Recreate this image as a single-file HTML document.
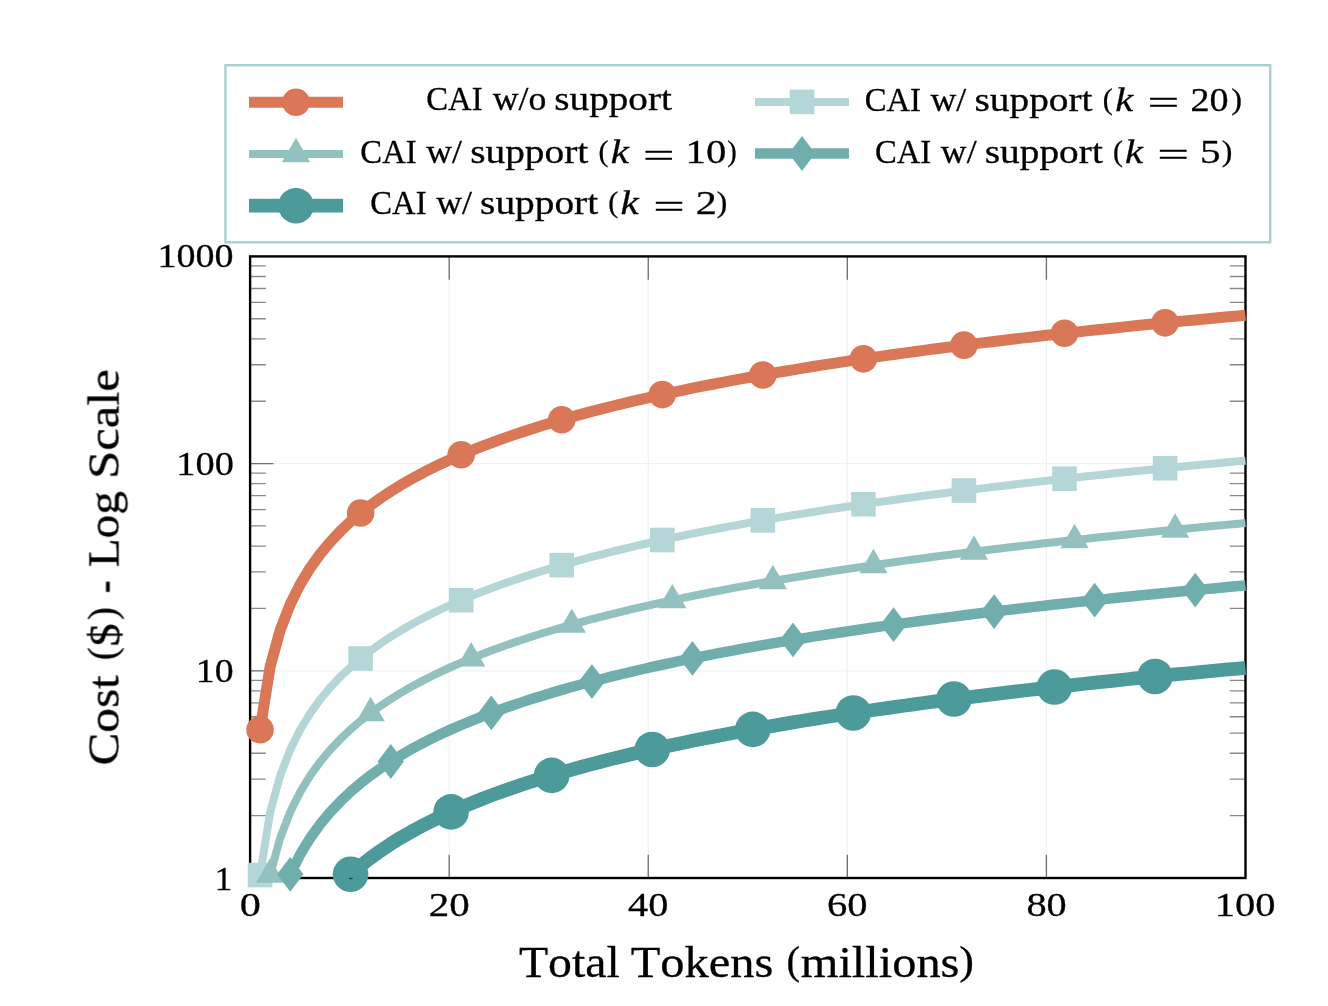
<!DOCTYPE html><html><head><meta charset="utf-8"><title>CAI cost chart</title><style>html,body{margin:0;padding:0;background:#fff;width:1328px;height:1006px;overflow:hidden}svg{display:block}text{font-family:"Liberation Serif",serif;font-kerning:none;fill:#000}</style></head><body>
<svg width="1328" height="1006" viewBox="0 0 1328 1006">
<rect x="0" y="0" width="1328" height="1006" fill="#fff"/>
<path d="M449.18 256.40V878.00M648.26 256.40V878.00M847.34 256.40V878.00M1046.42 256.40V878.00M250.10 670.80H1245.50M250.10 463.60H1245.50" stroke="#EDF3F4" stroke-width="1.2" fill="none"/>
<path d="M449.18 256.40v23.3M449.18 878.00v-23.3M648.26 256.40v23.3M648.26 878.00v-23.3M847.34 256.40v23.3M847.34 878.00v-23.3M1046.42 256.40v23.3M1046.42 878.00v-23.3M250.10 670.80h23.3M1245.50 670.80h-23.3M250.10 463.60h23.3M1245.50 463.60h-23.3" stroke="#6E6E6E" stroke-width="1.3" fill="none"/>
<path d="M250.10 815.63h15.8M1245.50 815.63h-15.8M250.10 779.14h15.8M1245.50 779.14h-15.8M250.10 753.25h15.8M1245.50 753.25h-15.8M250.10 733.17h15.8M1245.50 733.17h-15.8M250.10 716.77h15.8M1245.50 716.77h-15.8M250.10 702.90h15.8M1245.50 702.90h-15.8M250.10 690.88h15.8M1245.50 690.88h-15.8M250.10 680.28h15.8M1245.50 680.28h-15.8M250.10 608.43h15.8M1245.50 608.43h-15.8M250.10 571.94h15.8M1245.50 571.94h-15.8M250.10 546.05h15.8M1245.50 546.05h-15.8M250.10 525.97h15.8M1245.50 525.97h-15.8M250.10 509.57h15.8M1245.50 509.57h-15.8M250.10 495.70h15.8M1245.50 495.70h-15.8M250.10 483.68h15.8M1245.50 483.68h-15.8M250.10 473.08h15.8M1245.50 473.08h-15.8M250.10 401.23h15.8M1245.50 401.23h-15.8M250.10 364.74h15.8M1245.50 364.74h-15.8M250.10 338.85h15.8M1245.50 338.85h-15.8M250.10 318.77h15.8M1245.50 318.77h-15.8M250.10 302.37h15.8M1245.50 302.37h-15.8M250.10 288.50h15.8M1245.50 288.50h-15.8M250.10 276.48h15.8M1245.50 276.48h-15.8M250.10 265.88h15.8M1245.50 265.88h-15.8" stroke="#8A8A8A" stroke-width="1.3" fill="none"/>
<rect x="250.10" y="256.40" width="995.40" height="621.60" fill="none" stroke="#000" stroke-width="2.4"/>
<path d="M260.05 729.64 L270.11 666.81 L280.17 630.17 L290.22 604.21 L300.28 584.09 L310.33 567.65 L320.39 553.76 L330.44 541.72 L340.50 531.11 L350.55 521.62 L360.61 513.04 L370.67 505.20 L380.72 497.99 L390.78 491.32 L400.83 485.11 L410.89 479.29 L420.94 473.84 L431.00 468.69 L441.05 463.82 L451.11 459.20 L461.17 454.81 L471.22 450.62 L481.28 446.62 L491.33 442.79 L501.39 439.11 L511.44 435.58 L521.50 432.19 L531.55 428.91 L541.61 425.75 L551.67 422.70 L561.72 419.75 L571.78 416.89 L581.83 414.12 L591.89 411.43 L601.94 408.83 L612.00 406.29 L622.05 403.82 L632.11 401.42 L642.17 399.09 L652.22 396.81 L662.28 394.58 L672.33 392.41 L682.39 390.30 L692.44 388.23 L702.50 386.21 L712.55 384.23 L722.61 382.29 L732.67 380.40 L742.72 378.54 L752.78 376.72 L762.83 374.94 L772.89 373.19 L782.94 371.48 L793.00 369.80 L803.05 368.14 L813.11 366.52 L823.17 364.93 L833.22 363.36 L843.28 361.83 L853.33 360.31 L863.39 358.83 L873.44 357.36 L883.50 355.92 L893.55 354.50 L903.61 353.11 L913.67 351.73 L923.72 350.38 L933.78 349.05 L943.83 347.73 L953.89 346.44 L963.94 345.16 L974.00 343.90 L984.06 342.66 L994.11 341.44 L1004.17 340.23 L1014.22 339.04 L1024.28 337.86 L1034.33 336.70 L1044.39 335.55 L1054.44 334.42 L1064.50 333.30 L1074.56 332.20 L1084.61 331.11 L1094.67 330.03 L1104.72 328.97 L1114.78 327.91 L1124.83 326.87 L1134.89 325.84 L1144.94 324.83 L1155.00 323.82 L1165.06 322.83 L1175.11 321.84 L1185.17 320.87 L1195.22 319.91 L1205.28 318.96 L1215.33 318.01 L1225.39 317.08 L1235.44 316.16 L1245.50 315.24" stroke="#D97757" stroke-width="11" fill="none" stroke-linejoin="round" stroke-linecap="butt"/>
<circle cx="260.05" cy="729.64" r="13.8" fill="#D97757"/>
<circle cx="360.61" cy="513.04" r="13.8" fill="#D97757"/>
<circle cx="461.17" cy="454.81" r="13.8" fill="#D97757"/>
<circle cx="561.72" cy="419.75" r="13.8" fill="#D97757"/>
<circle cx="662.28" cy="394.58" r="13.8" fill="#D97757"/>
<circle cx="762.83" cy="374.94" r="13.8" fill="#D97757"/>
<circle cx="863.39" cy="358.83" r="13.8" fill="#D97757"/>
<circle cx="963.94" cy="345.16" r="13.8" fill="#D97757"/>
<circle cx="1064.50" cy="333.30" r="13.8" fill="#D97757"/>
<circle cx="1165.06" cy="322.83" r="13.8" fill="#D97757"/>
<path d="M260.05 875.08 L270.11 812.25 L280.17 775.61 L290.22 749.65 L300.28 729.52 L310.33 713.08 L320.39 699.19 L330.44 687.16 L340.50 676.55 L350.55 667.06 L360.61 658.47 L370.67 650.63 L380.72 643.43 L390.78 636.75 L400.83 630.54 L410.89 624.73 L420.94 619.27 L431.00 614.12 L441.05 609.25 L451.11 604.64 L461.17 600.24 L471.22 596.06 L481.28 592.05 L491.33 588.22 L501.39 584.55 L511.44 581.02 L521.50 577.62 L531.55 574.35 L541.61 571.19 L551.67 568.14 L561.72 565.18 L571.78 562.33 L581.83 559.56 L591.89 556.87 L601.94 554.26 L612.00 551.72 L622.05 549.26 L632.11 546.86 L642.17 544.52 L652.22 542.24 L662.28 540.02 L672.33 537.85 L682.39 535.73 L692.44 533.66 L702.50 531.64 L712.55 529.66 L722.61 527.73 L732.67 525.83 L742.72 523.97 L752.78 522.16 L762.83 520.37 L772.89 518.63 L782.94 516.91 L793.00 515.23 L803.05 513.58 L813.11 511.96 L823.17 510.36 L833.22 508.80 L843.28 507.26 L853.33 505.75 L863.39 504.26 L873.44 502.80 L883.50 501.36 L893.55 499.94 L903.61 498.54 L913.67 497.17 L923.72 495.82 L933.78 494.48 L943.83 493.17 L953.89 491.87 L963.94 490.60 L974.00 489.34 L984.06 488.10 L994.11 486.87 L1004.17 485.66 L1014.22 484.47 L1024.28 483.30 L1034.33 482.13 L1044.39 480.99 L1054.44 479.86 L1064.50 478.74 L1074.56 477.63 L1084.61 476.54 L1094.67 475.46 L1104.72 474.40 L1114.78 473.35 L1124.83 472.31 L1134.89 471.28 L1144.94 470.26 L1155.00 469.26 L1165.06 468.26 L1175.11 467.28 L1185.17 466.30 L1195.22 465.34 L1205.28 464.39 L1215.33 463.45 L1225.39 462.52 L1235.44 461.59 L1245.50 460.68" stroke="#B5D6D6" stroke-width="8" fill="none" stroke-linejoin="round" stroke-linecap="butt"/>
<rect x="247.75" y="862.78" width="24.60" height="24.60" fill="#B5D6D6"/>
<rect x="348.31" y="646.17" width="24.60" height="24.60" fill="#B5D6D6"/>
<rect x="448.87" y="587.94" width="24.60" height="24.60" fill="#B5D6D6"/>
<rect x="549.42" y="552.88" width="24.60" height="24.60" fill="#B5D6D6"/>
<rect x="649.98" y="527.72" width="24.60" height="24.60" fill="#B5D6D6"/>
<rect x="750.53" y="508.07" width="24.60" height="24.60" fill="#B5D6D6"/>
<rect x="851.09" y="491.96" width="24.60" height="24.60" fill="#B5D6D6"/>
<rect x="951.64" y="478.30" width="24.60" height="24.60" fill="#B5D6D6"/>
<rect x="1052.20" y="466.44" width="24.60" height="24.60" fill="#B5D6D6"/>
<rect x="1152.76" y="455.96" width="24.60" height="24.60" fill="#B5D6D6"/>
<path d="M270.11 874.60 L280.17 837.96 L290.22 812.00 L300.28 791.88 L310.33 775.44 L320.39 761.55 L330.44 749.51 L340.50 738.90 L350.55 729.41 L360.61 720.83 L370.67 712.99 L380.72 705.78 L390.78 699.11 L400.83 692.90 L410.89 687.08 L420.94 681.63 L431.00 676.48 L441.05 671.61 L451.11 666.99 L461.17 662.60 L471.22 658.41 L481.28 654.41 L491.33 650.58 L501.39 646.90 L511.44 643.37 L521.50 639.98 L531.55 636.70 L541.61 633.54 L551.67 630.49 L561.72 627.54 L571.78 624.68 L581.83 621.91 L591.89 619.23 L601.94 616.62 L612.00 614.08 L622.05 611.61 L632.11 609.21 L642.17 606.88 L652.22 604.60 L662.28 602.37 L672.33 600.21 L682.39 598.09 L692.44 596.02 L702.50 594.00 L712.55 592.02 L722.61 590.08 L732.67 588.19 L742.72 586.33 L752.78 584.51 L762.83 582.73 L772.89 580.98 L782.94 579.27 L793.00 577.59 L803.05 575.93 L813.11 574.31 L823.17 572.72 L833.22 571.15 L843.28 569.62 L853.33 568.10 L863.39 566.62 L873.44 565.15 L883.50 563.71 L893.55 562.29 L903.61 560.90 L913.67 559.53 L923.72 558.17 L933.78 556.84 L943.83 555.52 L953.89 554.23 L963.94 552.95 L974.00 551.69 L984.06 550.45 L994.11 549.23 L1004.17 548.02 L1014.22 546.83 L1024.28 545.65 L1034.33 544.49 L1044.39 543.34 L1054.44 542.21 L1064.50 541.09 L1074.56 539.99 L1084.61 538.90 L1094.67 537.82 L1104.72 536.76 L1114.78 535.70 L1124.83 534.66 L1134.89 533.63 L1144.94 532.62 L1155.00 531.61 L1165.06 530.62 L1175.11 529.63 L1185.17 528.66 L1195.22 527.70 L1205.28 526.75 L1215.33 525.80 L1225.39 524.87 L1235.44 523.95 L1245.50 523.03" stroke="#93C1C0" stroke-width="8" fill="none" stroke-linejoin="round" stroke-linecap="butt"/>
<polygon points="270.11,858.30 255.99,882.75 284.23,882.75" fill="#93C1C0"/>
<polygon points="370.67,696.69 356.55,721.14 384.78,721.14" fill="#93C1C0"/>
<polygon points="471.22,642.11 457.11,666.56 485.34,666.56" fill="#93C1C0"/>
<polygon points="571.78,608.38 557.66,632.83 585.89,632.83" fill="#93C1C0"/>
<polygon points="672.33,583.91 658.22,608.36 686.45,608.36" fill="#93C1C0"/>
<polygon points="772.89,564.68 758.77,589.13 787.00,589.13" fill="#93C1C0"/>
<polygon points="873.44,548.85 859.33,573.30 887.56,573.30" fill="#93C1C0"/>
<polygon points="974.00,535.39 959.88,559.84 988.12,559.84" fill="#93C1C0"/>
<polygon points="1074.56,523.69 1060.44,548.14 1088.67,548.14" fill="#93C1C0"/>
<polygon points="1175.11,513.33 1161.00,537.78 1189.23,537.78" fill="#93C1C0"/>
<path d="M290.22 874.37 L300.28 854.25 L310.33 837.81 L320.39 823.92 L330.44 811.89 L340.50 801.28 L350.55 791.79 L360.61 783.20 L370.67 775.36 L380.72 768.16 L390.78 761.48 L400.83 755.27 L410.89 749.46 L420.94 744.00 L431.00 738.85 L441.05 733.98 L451.11 729.37 L461.17 724.97 L471.22 720.79 L481.28 716.78 L491.33 712.95 L501.39 709.28 L511.44 705.75 L521.50 702.35 L531.55 699.08 L541.61 695.92 L551.67 692.87 L561.72 689.91 L571.78 687.06 L581.83 684.29 L591.89 681.60 L601.94 678.99 L612.00 676.45 L622.05 673.99 L632.11 671.59 L642.17 669.25 L652.22 666.97 L662.28 664.75 L672.33 662.58 L682.39 660.46 L692.44 658.39 L702.50 656.37 L712.55 654.39 L722.61 652.45 L732.67 650.56 L742.72 648.70 L752.78 646.89 L762.83 645.10 L772.89 643.36 L782.94 641.64 L793.00 639.96 L803.05 638.31 L813.11 636.69 L823.17 635.09 L833.22 633.53 L843.28 631.99 L853.33 630.48 L863.39 628.99 L873.44 627.53 L883.50 626.09 L893.55 624.67 L903.61 623.27 L913.67 621.90 L923.72 620.55 L933.78 619.21 L943.83 617.90 L953.89 616.60 L963.94 615.33 L974.00 614.07 L984.06 612.83 L994.11 611.60 L1004.17 610.39 L1014.22 609.20 L1024.28 608.03 L1034.33 606.86 L1044.39 605.72 L1054.44 604.59 L1064.50 603.47 L1074.56 602.36 L1084.61 601.27 L1094.67 600.19 L1104.72 599.13 L1114.78 598.08 L1124.83 597.04 L1134.89 596.01 L1144.94 594.99 L1155.00 593.99 L1165.06 592.99 L1175.11 592.01 L1185.17 591.03 L1195.22 590.07 L1205.28 589.12 L1215.33 588.18 L1225.39 587.24 L1235.44 586.32 L1245.50 585.41" stroke="#70AEAD" stroke-width="10.5" fill="none" stroke-linejoin="round" stroke-linecap="butt"/>
<polygon points="290.22,856.97 303.42,874.37 290.22,891.77 277.02,874.37" fill="#70AEAD"/>
<polygon points="390.78,744.08 403.98,761.48 390.78,778.88 377.58,761.48" fill="#70AEAD"/>
<polygon points="491.33,695.55 504.53,712.95 491.33,730.35 478.13,712.95" fill="#70AEAD"/>
<polygon points="591.89,664.20 605.09,681.60 591.89,699.00 578.69,681.60" fill="#70AEAD"/>
<polygon points="692.44,640.99 705.64,658.39 692.44,675.79 679.24,658.39" fill="#70AEAD"/>
<polygon points="793.00,622.56 806.20,639.96 793.00,657.36 779.80,639.96" fill="#70AEAD"/>
<polygon points="893.55,607.27 906.75,624.67 893.55,642.07 880.35,624.67" fill="#70AEAD"/>
<polygon points="994.11,594.20 1007.31,611.60 994.11,629.00 980.91,611.60" fill="#70AEAD"/>
<polygon points="1094.67,582.79 1107.87,600.19 1094.67,617.59 1081.47,600.19" fill="#70AEAD"/>
<polygon points="1195.22,572.67 1208.42,590.07 1195.22,607.47 1182.02,590.07" fill="#70AEAD"/>
<path d="M350.55 874.26 L360.61 865.67 L370.67 857.83 L380.72 850.63 L390.78 843.95 L400.83 837.74 L410.89 831.93 L420.94 826.47 L431.00 821.32 L441.05 816.45 L451.11 811.84 L461.17 807.44 L471.22 803.26 L481.28 799.25 L491.33 795.42 L501.39 791.75 L511.44 788.22 L521.50 784.82 L531.55 781.55 L541.61 778.39 L551.67 775.34 L561.72 772.38 L571.78 769.53 L581.83 766.76 L591.89 764.07 L601.94 761.46 L612.00 758.92 L622.05 756.46 L632.11 754.06 L642.17 751.72 L652.22 749.44 L662.28 747.22 L672.33 745.05 L682.39 742.93 L692.44 740.86 L702.50 738.84 L712.55 736.86 L722.61 734.93 L732.67 733.03 L742.72 731.17 L752.78 729.36 L762.83 727.57 L772.89 725.83 L782.94 724.11 L793.00 722.43 L803.05 720.78 L813.11 719.16 L823.17 717.56 L833.22 716.00 L843.28 714.46 L853.33 712.95 L863.39 711.46 L873.44 710.00 L883.50 708.56 L893.55 707.14 L903.61 705.74 L913.67 704.37 L923.72 703.02 L933.78 701.68 L943.83 700.37 L953.89 699.07 L963.94 697.80 L974.00 696.54 L984.06 695.30 L994.11 694.07 L1004.17 692.86 L1014.22 691.67 L1024.28 690.50 L1034.33 689.33 L1044.39 688.19 L1054.44 687.06 L1064.50 685.94 L1074.56 684.83 L1084.61 683.74 L1094.67 682.66 L1104.72 681.60 L1114.78 680.55 L1124.83 679.51 L1134.89 678.48 L1144.94 677.46 L1155.00 676.46 L1165.06 675.46 L1175.11 674.48 L1185.17 673.50 L1195.22 672.54 L1205.28 671.59 L1215.33 670.65 L1225.39 669.72 L1235.44 668.79 L1245.50 667.88" stroke="#4D9A9A" stroke-width="13.8" fill="none" stroke-linejoin="round" stroke-linecap="butt"/>
<circle cx="350.55" cy="874.26" r="17.8" fill="#4D9A9A"/>
<circle cx="451.11" cy="811.84" r="17.8" fill="#4D9A9A"/>
<circle cx="551.67" cy="775.34" r="17.8" fill="#4D9A9A"/>
<circle cx="652.22" cy="749.44" r="17.8" fill="#4D9A9A"/>
<circle cx="752.78" cy="729.36" r="17.8" fill="#4D9A9A"/>
<circle cx="853.33" cy="712.95" r="17.8" fill="#4D9A9A"/>
<circle cx="953.89" cy="699.07" r="17.8" fill="#4D9A9A"/>
<circle cx="1054.44" cy="687.06" r="17.8" fill="#4D9A9A"/>
<circle cx="1155.00" cy="676.46" r="17.8" fill="#4D9A9A"/>
<ellipse cx="350.8" cy="878.5" rx="2.1" ry="0.8" fill="#223F3F"/>
<rect x="225.4" y="65.2" width="1044.8" height="177.1" fill="#fff" stroke="#A8CFCF" stroke-width="2.4"/>
<path d="M249 102.2H343" stroke="#D97757" stroke-width="11" fill="none"/><circle cx="296.00" cy="102.20" r="13.8" fill="#D97757"/>
<path d="M249 154.0H343" stroke="#93C1C0" stroke-width="8" fill="none"/><polygon points="296.00,137.70 281.88,162.15 310.12,162.15" fill="#93C1C0"/>
<path d="M249 205.7H343" stroke="#4D9A9A" stroke-width="13.8" fill="none"/><circle cx="296.00" cy="205.70" r="17.8" fill="#4D9A9A"/>
<path d="M755 101.9H849" stroke="#B5D6D6" stroke-width="8" fill="none"/><rect x="789.70" y="89.60" width="24.60" height="24.60" fill="#B5D6D6"/>
<path d="M755 153.5H849" stroke="#70AEAD" stroke-width="10.5" fill="none"/><polygon points="802.00,136.10 815.20,153.50 802.00,170.90 788.80,153.50" fill="#70AEAD"/>
<g opacity="0.999" stroke="#000" stroke-width="0.3">
<text x="426.26" y="110.20" font-size="33.5" textLength="56.39" lengthAdjust="spacingAndGlyphs">CAI</text><text x="492.67" y="110.20" font-size="33.5" textLength="53.60" lengthAdjust="spacingAndGlyphs">w/o</text><text x="554.39" y="110.20" font-size="33.5" textLength="117.43" lengthAdjust="spacingAndGlyphs">support</text>
<text x="864.66" y="110.70" font-size="33.5" textLength="56.29" lengthAdjust="spacingAndGlyphs">CAI</text><text x="930.57" y="110.70" font-size="33.5" textLength="35.73" lengthAdjust="spacingAndGlyphs">w/</text><text x="974.49" y="110.70" font-size="33.5" textLength="118.04" lengthAdjust="spacingAndGlyphs">support</text><text x="1102.78" y="108.70" font-size="29.4" textLength="9.98" lengthAdjust="spacingAndGlyphs">(</text><text x="1115.34" y="110.70" font-size="33.5" textLength="17.87" lengthAdjust="spacingAndGlyphs" font-style="italic">k</text><text x="1147.59" y="114.30" font-size="33.5" textLength="31.87" lengthAdjust="spacingAndGlyphs">=</text><text x="1190.52" y="110.70" font-size="33.5" textLength="38.13" lengthAdjust="spacingAndGlyphs">20</text><text x="1231.36" y="108.70" font-size="29.4" textLength="10.76" lengthAdjust="spacingAndGlyphs">)</text>
<text x="360.36" y="163.00" font-size="33.5" textLength="56.29" lengthAdjust="spacingAndGlyphs">CAI</text><text x="426.27" y="163.00" font-size="33.5" textLength="35.73" lengthAdjust="spacingAndGlyphs">w/</text><text x="470.19" y="163.00" font-size="33.5" textLength="118.04" lengthAdjust="spacingAndGlyphs">support</text><text x="598.48" y="161.00" font-size="29.4" textLength="9.98" lengthAdjust="spacingAndGlyphs">(</text><text x="610.73" y="163.00" font-size="33.5" textLength="18.08" lengthAdjust="spacingAndGlyphs" font-style="italic">k</text><text x="642.92" y="166.60" font-size="33.5" textLength="31.51" lengthAdjust="spacingAndGlyphs">=</text><text x="685.62" y="163.00" font-size="33.5" textLength="40.73" lengthAdjust="spacingAndGlyphs">10</text><text x="727.28" y="161.00" font-size="29.4" textLength="9.47" lengthAdjust="spacingAndGlyphs">)</text>
<text x="874.96" y="162.80" font-size="33.5" textLength="56.29" lengthAdjust="spacingAndGlyphs">CAI</text><text x="940.87" y="162.80" font-size="33.5" textLength="35.73" lengthAdjust="spacingAndGlyphs">w/</text><text x="984.79" y="162.80" font-size="33.5" textLength="118.04" lengthAdjust="spacingAndGlyphs">support</text><text x="1113.08" y="160.80" font-size="29.4" textLength="9.98" lengthAdjust="spacingAndGlyphs">(</text><text x="1125.14" y="162.80" font-size="33.5" textLength="17.87" lengthAdjust="spacingAndGlyphs" font-style="italic">k</text><text x="1157.39" y="166.40" font-size="33.5" textLength="31.87" lengthAdjust="spacingAndGlyphs">=</text><text x="1199.91" y="162.80" font-size="33.5" textLength="20.60" lengthAdjust="spacingAndGlyphs">5</text><text x="1221.67" y="160.80" font-size="29.4" textLength="10.63" lengthAdjust="spacingAndGlyphs">)</text>
<text x="370.26" y="213.90" font-size="33.5" textLength="56.29" lengthAdjust="spacingAndGlyphs">CAI</text><text x="436.17" y="213.90" font-size="33.5" textLength="35.73" lengthAdjust="spacingAndGlyphs">w/</text><text x="480.09" y="213.90" font-size="33.5" textLength="118.04" lengthAdjust="spacingAndGlyphs">support</text><text x="608.38" y="211.90" font-size="29.4" textLength="9.98" lengthAdjust="spacingAndGlyphs">(</text><text x="620.52" y="213.90" font-size="33.5" textLength="18.18" lengthAdjust="spacingAndGlyphs" font-style="italic">k</text><text x="653.22" y="217.50" font-size="33.5" textLength="31.51" lengthAdjust="spacingAndGlyphs">=</text><text x="695.75" y="213.90" font-size="33.5" textLength="21.08" lengthAdjust="spacingAndGlyphs">2</text><text x="716.88" y="211.90" font-size="29.4" textLength="10.50" lengthAdjust="spacingAndGlyphs">)</text>
<text x="157.56" y="267.00" font-size="33.8" textLength="76.09" lengthAdjust="spacingAndGlyphs">1000</text>
<text x="176.33" y="475.00" font-size="33.8" textLength="57.53" lengthAdjust="spacingAndGlyphs">100</text>
<text x="195.88" y="681.80" font-size="33.8" textLength="37.76" lengthAdjust="spacingAndGlyphs">10</text>
<text x="214.83" y="890.00" font-size="33.8" textLength="17.47" lengthAdjust="spacingAndGlyphs">1</text>
<text x="239.69" y="916.20" font-size="33.8" textLength="21.12" lengthAdjust="spacingAndGlyphs">0</text>
<text x="428.70" y="916.20" font-size="33.8" textLength="40.96" lengthAdjust="spacingAndGlyphs">20</text>
<text x="628.11" y="916.20" font-size="33.8" textLength="40.32" lengthAdjust="spacingAndGlyphs">40</text>
<text x="826.96" y="916.20" font-size="33.8" textLength="40.48" lengthAdjust="spacingAndGlyphs">60</text>
<text x="1026.47" y="916.20" font-size="33.8" textLength="40.27" lengthAdjust="spacingAndGlyphs">80</text>
<text x="1214.84" y="916.20" font-size="33.8" textLength="60.70" lengthAdjust="spacingAndGlyphs">100</text>
<text x="518.94" y="976.80" font-size="44.5" textLength="100.82" lengthAdjust="spacingAndGlyphs">Total</text><text x="630.72" y="976.80" font-size="44.5" textLength="142.73" lengthAdjust="spacingAndGlyphs">Tokens</text><text x="786.50" y="974.10" font-size="39.7" textLength="13.61" lengthAdjust="spacingAndGlyphs">(</text><text x="800.78" y="976.80" font-size="44.5" textLength="158.66" lengthAdjust="spacingAndGlyphs">millions</text><text x="959.28" y="974.10" font-size="39.7" textLength="14.65" lengthAdjust="spacingAndGlyphs">)</text>
<g transform="translate(118.5 567.2) rotate(-90)"><text x="-198.32" y="0.00" font-size="44.5" textLength="90.31" lengthAdjust="spacingAndGlyphs">Cost</text><text x="-93.09" y="-2.94" font-size="39.9" textLength="12.84" lengthAdjust="spacingAndGlyphs">(</text><text x="-79.19" y="1.20" font-size="44.5" textLength="23.11" lengthAdjust="spacingAndGlyphs">$</text><text x="-52.74" y="-2.94" font-size="39.9" textLength="12.84" lengthAdjust="spacingAndGlyphs">)</text><text x="-26.11" y="0.00" font-size="44.5" textLength="12.69" lengthAdjust="spacingAndGlyphs">-</text><text x="-0.06" y="0.00" font-size="44.5" textLength="76.16" lengthAdjust="spacingAndGlyphs">Log</text><text x="88.31" y="0.00" font-size="44.5" textLength="109.75" lengthAdjust="spacingAndGlyphs">Scale</text></g>
</g>
</svg></body></html>
